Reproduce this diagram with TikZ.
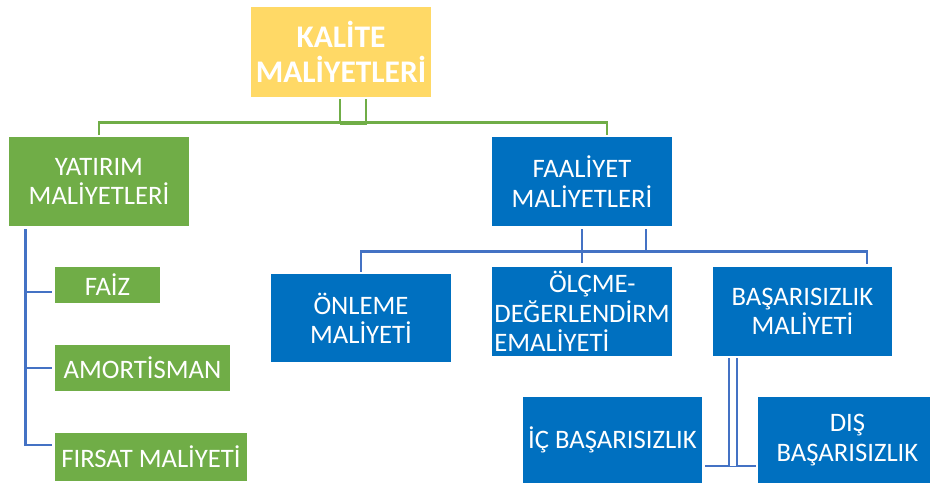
\documentclass[tikz,border=0pt]{standalone}
\usepackage{fontspec}
\setmainfont{Carlito}
\usetikzlibrary{positioning, calc}

\definecolor{altin}{HTML}{FFD966}
\definecolor{yesil}{HTML}{70AD47}
\definecolor{mavi}{HTML}{0070C0}
\definecolor{cizgi}{HTML}{4472C4}

\begin{document}
\begin{tikzpicture}[
    x=0.75pt, y=-0.75pt,      % 1 birim = 1 piksel, y aşağı doğru
    kutu/.style={inner sep=0pt, text=white, align=center,
                 font=\fontsize{20}{22}\selectfont},
    yesilkutu/.style={kutu, fill=yesil},
    mavikutu/.style={kutu, fill=mavi},
    gline/.style={draw=yesil, line width=1.9pt},
    bline/.style={draw=cizgi, line width=1.9pt},
    bdouble/.style={draw=cizgi, line width=1.9pt, double=white, double distance=3.9pt}
]
    \useasboundingbox (0,0) rectangle (930,483);

    % --- 1. Ana kutu ---
    \node [kutu, fill=altin, minimum width=135pt, minimum height=67.5pt,
           font=\fontsize{23.6}{26}\selectfont\bfseries] (kalite) at (341,52) {KALİTE\\MALİYETLERİ};

    % --- 2. İkinci seviye ---
    \node [yesilkutu, minimum width=135pt, minimum height=66.75pt] (yatirim) at (99,181.5) {YATIRIM\\MALİYETLERİ};
    \node [mavikutu, minimum width=135pt, minimum height=66.75pt] (faaliyet) at (582,181.5) {FAALİYET\\MALİYETLERİ};

    % --- 3. Yatırım maliyetleri altı ---
    \node [yesilkutu, minimum width=78.75pt, minimum height=27pt] (faiz) at (107.5,285) {FAİZ};
    \node [yesilkutu, minimum width=131.25pt, minimum height=34.5pt] (amortisman) at (142.5,368) {AMORTİSMAN};
    \node [yesilkutu, minimum width=144pt, minimum height=36pt] (firsat) at (151,457) {FIRSAT MALİYETİ};

    % --- 4. Faaliyet maliyetleri altı ---
    \node [mavikutu, minimum width=135pt, minimum height=66pt] (onleme) at (361,318) {ÖNLEME\\MALİYETİ};
    \node [mavikutu, minimum width=135pt, minimum height=66.75pt, align=left] (olcme) at (582,311.5)
        {\hspace*{2.05em}ÖLÇME-\\DEĞERLENDİRM\\EMALİYETİ};
    \node [mavikutu, minimum width=134.25pt, minimum height=66.75pt] (basarisizlik) at (802.5,311.5) {BAŞARISIZLIK\\MALİYETİ};

    % --- 5. Başarısızlık maliyeti altı ---
    \node [mavikutu, minimum width=134.25pt, minimum height=64.5pt] (ic_bas) at (612.5,440) {İÇ BAŞARISIZLIK};
    \node [mavikutu, minimum width=134.25pt, minimum height=64.5pt] (dis_bas) at (847.5,440) {DIŞ\\BAŞARISIZLIK};

    % --- 6. Bağlantılar ---
    % yeşil
    \coordinate (gbar) at ($(kalite.south)+(0,26)$);
    \draw [gline] ($(kalite.south)+(-1,2)$) -- ($(gbar)+(-1,0)$);
    \draw [gline] ($(kalite.south)+(25,2)$) |- ($(gbar)+(-1,0)$);
    \draw [gline] ($(yatirim.north)+(0,-2)$) |- ($(faaliyet.north)+(25,-14)$) -- ($(faaliyet.north)+(25,-2)$);

    % yatırım dalları
    \coordinate (ytrunk) at ($(yatirim.south west)+(17,3)$);
    \draw [bline] (ytrunk) |- ($(faiz.west)+(-3,7)$);
    \draw [bline] (ytrunk) |- ($(amortisman.west)+(-3,0)$);
    \draw [bline] (ytrunk) |- ($(firsat.west)+(-3,-12)$);

    % faaliyet dalları
    \draw [bline] ($(faaliyet.south)+(0,3)$) -- ($(olcme.north)+(0,-4)$);
    \draw [bline] ($(faaliyet.south)+(64,3)$) -- ($(faaliyet.south)+(64,26)$);
    \draw [bline] ($(onleme.north)+(0,-2)$) |- ($(basarisizlik.north)+(64.5,-15)$) -- ($(basarisizlik.north)+(64.5,-3)$);

    % başarısızlık dalları (çift çizgi)
    \coordinate (icdis) at ($(ic_bas.east)!0.5!(dis_bas.west)$);
    \draw [bline] ($(ic_bas.east)+(3,26)$) -- ($(dis_bas.west)+(-2,26)$);
    \draw [bdouble] ($(basarisizlik.south -| icdis)+(3,2)$) -- ($(icdis)+(3,26)$);

\end{tikzpicture}
\end{document}
